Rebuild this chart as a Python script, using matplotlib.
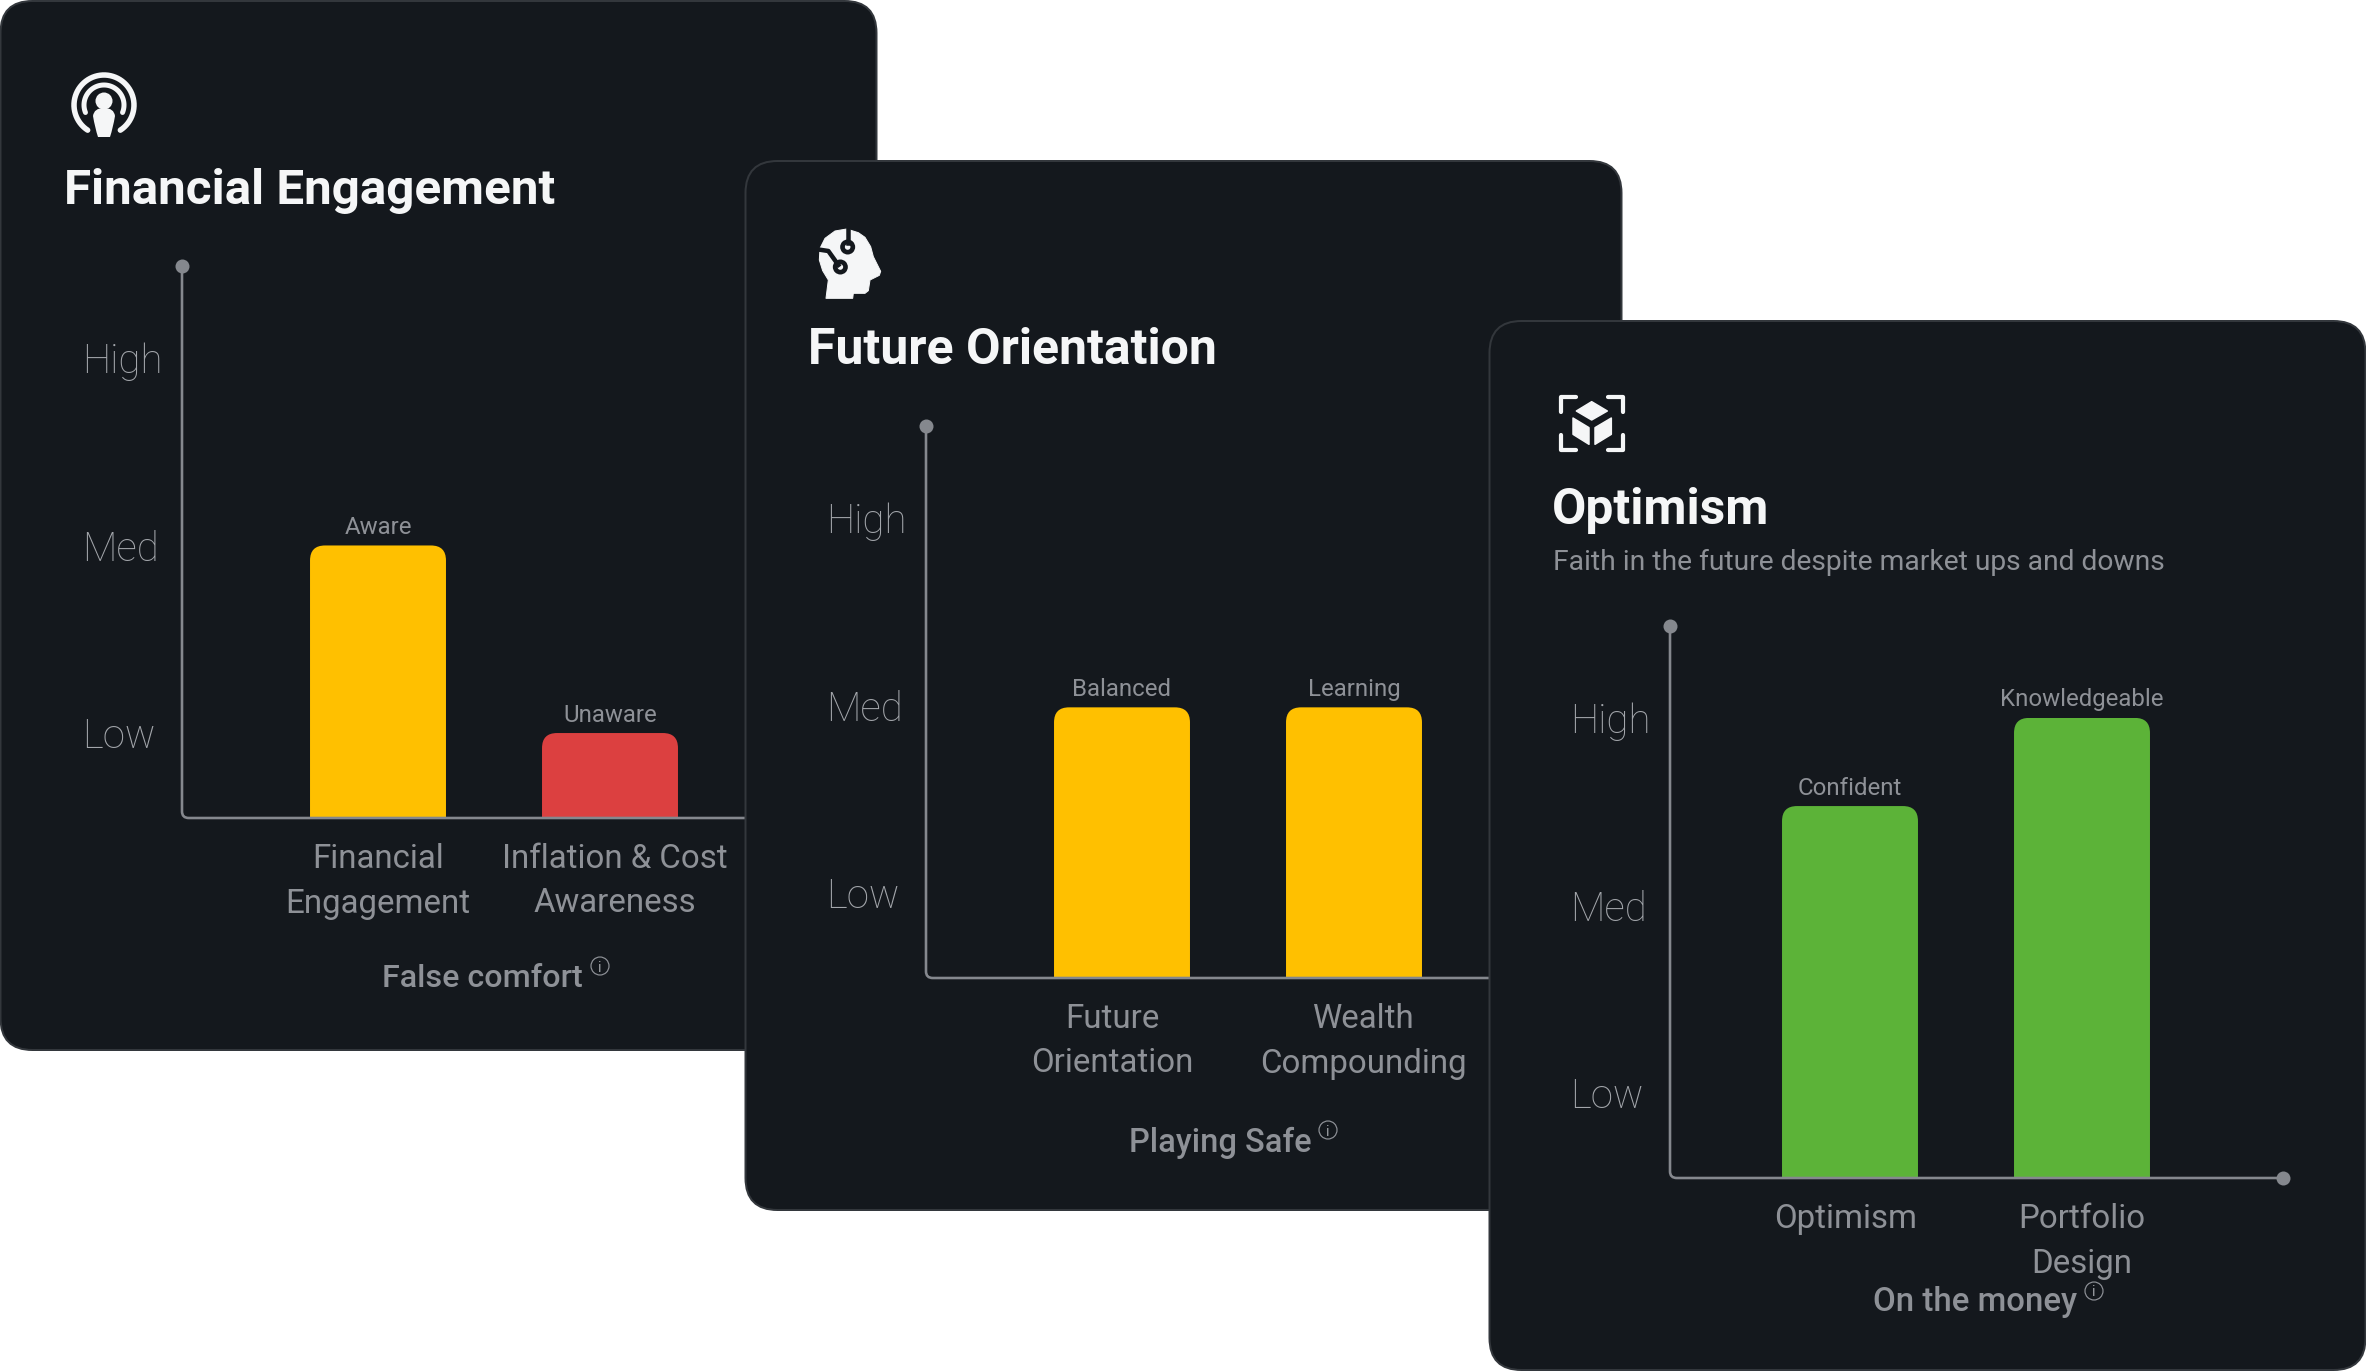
#!/usr/bin/env python3
# -*- coding: utf-8 -*-
"""
plot.py

Three overlapping dark cards with a small low/med/high bar chart on each
"""

import numpy as np

import matplotlib as mpl
import matplotlib.pyplot as plt
from matplotlib.patches import Circle, FancyBboxPatch, PathPatch, Polygon
from matplotlib.path import Path

# Data
titles = ["Financial Engagement", "Future Orientation", "Optimism"]
subtitles = ["", "", "Faith in the future despite market ups and downs"]
footers = ["False comfort", "Playing Safe", "On the money"]
level_names = ["Low", "Med", "High"]
level_values = [1, 2, 3]

engagement_names = ["Financial\nEngagement", "Inflation & Cost\nAwareness"]
engagement_values = [2.0, 1.0]
engagement_tags = ["Aware", "Unaware"]

future_names = ["Future\nOrientation", "Wealth\nCompounding"]
future_values = [1.99, 1.99]
future_tags = ["Balanced", "Learning"]

optimism_names = ["Optimism", "Portfolio\nDesign"]
optimism_values = [2.53, 3.0]
optimism_tags = ["Confident", "Knowledgeable"]

# Colors
CARD = "#14181d"
EDGE = "#33373c"
WHITE = "#f5f6f7"
GREY = "#8e9197"
SOFT = "#a3a6ab"
AXIS = "#85888e"
YELLOW = "#ffc000"
RED = "#dc4040"
GREEN = "#5cb338"

W, H = 2366, 1372
DPI = 100
PX = 72 / DPI   # points per pixel

mpl.rcParams['font.family'] = ['Roboto', 'DejaVu Sans']


# ------------------------------------------------------------------------------
#   Helpers
# ------------------------------------------------------------------------------

def new_layer(fig, zorder):
    """Transparent axes over the whole figure, in image pixels"""
    ax = fig.add_axes([0, 0, 1, 1], zorder=zorder)
    ax.set_xlim(0, W)
    ax.set_ylim(H, 0)
    ax.axis('off')
    return ax


def draw_card(ax, ox, oy):
    ax.add_patch(FancyBboxPatch((ox + 0.5, oy + 1), 876, 1049,
                                boxstyle="round,pad=0,rounding_size=32",
                                facecolor=CARD, edgecolor=EDGE,
                                linewidth=2 * PX))


def arc(ax, cx, cy, r, a0, a1, width, color=WHITE):
    a = np.radians(np.linspace(a0, a1, 60))
    ax.plot(cx + r * np.cos(a), cy - r * np.sin(a), color=color,
            linewidth=width * PX, solid_capstyle='round')


def icon_podcast(ax):
    arc(ax, 104, 105, 30, -57, 237, 5.5)
    arc(ax, 104, 105, 20, -22, 202, 5)
    ax.add_patch(Circle((104, 101), 8.5, color=WHITE, linewidth=0))
    body = Path([(93, 116), (94, 108), (104, 108), (114, 108), (115, 116),
                 (113, 128), (110, 137), (104, 137), (98, 137), (95, 128),
                 (93, 116)],
                [Path.MOVETO, Path.CURVE3, Path.CURVE3, Path.CURVE3,
                 Path.CURVE3, Path.CURVE3, Path.CURVE3, Path.CURVE3,
                 Path.CURVE3, Path.CURVE3, Path.CURVE3])
    ax.add_patch(PathPatch(body, facecolor=WHITE, linewidth=0))


def icon_head(ax):
    pts = np.array([(138, 295), (218, 295), (220, 280), (255, 280), (265, 272),
                    (270, 240), (298, 226), (302, 214), (280, 170), (272, 140),
                    (255, 112), (235, 98), (200, 87), (165, 93), (135, 115),
                    (120, 145), (118, 180), (128, 212), (145, 240)], float)
    pts = pts / 3 + [780, 200]
    ax.add_patch(Polygon(pts, closed=True, facecolor=WHITE, edgecolor=WHITE,
                         linewidth=1 * PX, joinstyle='round'))
    for line in ([(203, 84), (203, 130)],
                 [(112, 148), (145, 153), (175, 195)]):
        line = np.array(line, float) / 3 + [780, 200]
        ax.plot(line[:, 0], line[:, 1], color=CARD, linewidth=4.5 * PX)
    for x, y in [(203, 141), (181, 201)]:
        c = (780 + x / 3, 200 + y / 3)
        ax.add_patch(Circle(c, 7.5, color=CARD, linewidth=0))
        ax.add_patch(Circle(c, 2.8, color=WHITE, linewidth=0))


def icon_cube(ax):
    l, r, t, b = 1561, 1623.5, 397, 450
    for x0, x1, y0, y1 in [(l, l + 15, t, t + 15), (r, r - 15, t, t + 15),
                           (l, l + 15, b, b - 15), (r, r - 15, b, b - 15)]:
        ax.plot([x1, x0, x0], [y0, y0, y1], color=WHITE, linewidth=4.2 * PX,
                solid_capstyle='round', solid_joinstyle='round')
    faces = [[(155, 65), (202, 93), (155, 120), (109, 93)],
             [(99, 114), (147, 143), (147, 193), (99, 163)],
             [(165, 143), (214, 114), (214, 163), (165, 193)]]
    for face in faces:
        pts = np.array(face, float) / 3 + [1540, 380]
        ax.add_patch(Polygon(pts, closed=True, facecolor=WHITE,
                             edgecolor=WHITE, linewidth=1.5 * PX,
                             joinstyle='round'))


def info_mark(ax, x, y):
    ax.add_patch(Circle((x, y), 9, facecolor='none', edgecolor=GREY,
                        linewidth=1.2 * PX))
    ax.text(x, y, "i", color=SOFT, fontsize=10, ha='center',
            va='center_baseline')


def round_bar_tops(ax, bars, radius):
    """Clip each bar to a shape with rounded upper corners"""
    ax_w, ax_h = ax.get_position().width * W, ax.get_position().height * H
    rx = radius * np.diff(ax.get_xlim())[0] / ax_w
    ry = radius * np.diff(ax.get_ylim())[0] / ax_h
    for bar in bars:
        x0, x1 = bar.get_x(), bar.get_x() + bar.get_width()
        top = bar.get_height()
        path = Path([(x0, 0), (x0, top - ry), (x0, top), (x0 + rx, top),
                     (x1 - rx, top), (x1, top), (x1, top - ry), (x1, 0),
                     (x0, 0)],
                    [Path.MOVETO, Path.LINETO, Path.CURVE3, Path.CURVE3,
                     Path.LINETO, Path.CURVE3, Path.CURVE3, Path.LINETO,
                     Path.CLOSEPOLY])
        bar.set_clip_path(PathPatch(path, transform=ax.transData))


def bar_chart(fig, zorder, left, top, names, values, tags, colors, shifts,
              first_bar=196):
    """Axes box is 613 x 552 px, Low/Med/High are 187.5 px apart"""
    ax = fig.add_axes([left / W, 1 - (top + 552) / H, 613 / W, 552 / H],
                      zorder=zorder)
    ax.patch.set_alpha(0)
    x = np.arange(len(values))
    bars = ax.bar(x, values, width=0.586, color=colors, linewidth=0)

    # bars are 232 px apart, first_bar is the px distance from the y axis
    ax.set_xlim(-first_bar / 232, (613 - first_bar) / 232)
    ax.set_ylim(0.547, 3.49)
    round_bar_tops(ax, bars, 15)
    ax.bar_label(bars, labels=tags, padding=6.5 * PX, color=GREY,
                 fontsize=17.3)

    ax.set_xticks(x + np.array(shifts), names, color=GREY, fontsize=23.8,
                  linespacing=1.5)
    ax.set_yticks(level_values, level_names, color=SOFT, fontsize=29,
                  fontweight='light', ha='left')
    ax.tick_params(axis='x', length=0, pad=18)
    ax.tick_params(axis='y', length=0, pad=100 * PX)
    for side in ax.spines.values():
        side.set_visible(False)

    # L-shaped axis with a soft corner and a dot on both ends
    corner = Path([(0, 1), (0, 0.012), (0, 0), (0.011, 0), (1, 0)],
                  [Path.MOVETO, Path.LINETO, Path.CURVE3, Path.CURVE3,
                   Path.LINETO])
    ax.add_patch(PathPatch(corner, transform=ax.transAxes, facecolor='none',
                           edgecolor=AXIS, linewidth=2.6 * PX, clip_on=False))
    ax.plot([0, 1], [1, 0], 'o', color=AXIS, markersize=14 * PX,
            markeredgewidth=0, transform=ax.transAxes, clip_on=False)
    return ax


# ------------------------------------------------------------------------------
#   Main
# ------------------------------------------------------------------------------

if __name__ == "__main__":
    fig = plt.figure(figsize=(W / DPI, H / DPI), dpi=DPI, facecolor='white')

    # Card 1
    back = new_layer(fig, 1)
    draw_card(back, 0, 0)
    icon_podcast(back)
    back.text(64, 204, titles[0], color=WHITE, fontsize=35.6,
              fontweight='semibold')
    back.text(382, 978.5, footers[0], color=GREY, fontsize=23.2,
              fontweight='medium', va='center')
    info_mark(back, 600, 966)
    bar_chart(fig, 2, 182, 266, engagement_names, engagement_values,
              engagement_tags, [YELLOW, RED], [0, 0.02])

    # Card 2
    mid = new_layer(fig, 3)
    draw_card(mid, 745, 160)
    icon_head(mid)
    mid.text(808, 364.5, titles[1], color=WHITE, fontsize=36,
             fontweight='semibold')
    mid.text(1129, 1142.5, footers[1], color=GREY, fontsize=23.5,
             fontweight='medium', va='center')
    info_mark(mid, 1328, 1130)
    bar_chart(fig, 4, 926, 426, future_names, future_values,
              future_tags, [YELLOW, YELLOW], [-0.04, 0.04])

    # Card 3
    front = new_layer(fig, 5)
    draw_card(front, 1489, 320)
    icon_cube(front)
    front.text(1552, 524.5, titles[2], color=WHITE, fontsize=35.8,
               fontweight='semibold')
    front.text(1553, 570, subtitles[2], color=GREY, fontsize=20.35)
    front.text(1873, 1302.5, footers[2], color=GREY, fontsize=23.8,
               fontweight='medium', va='center')
    info_mark(front, 2094, 1291)
    bar_chart(fig, 6, 1670, 626, optimism_names, optimism_values,
              optimism_tags, [GREEN, GREEN], [-0.02, 0], first_bar=180)

    fig.savefig("out.png", dpi=DPI, facecolor='white')
